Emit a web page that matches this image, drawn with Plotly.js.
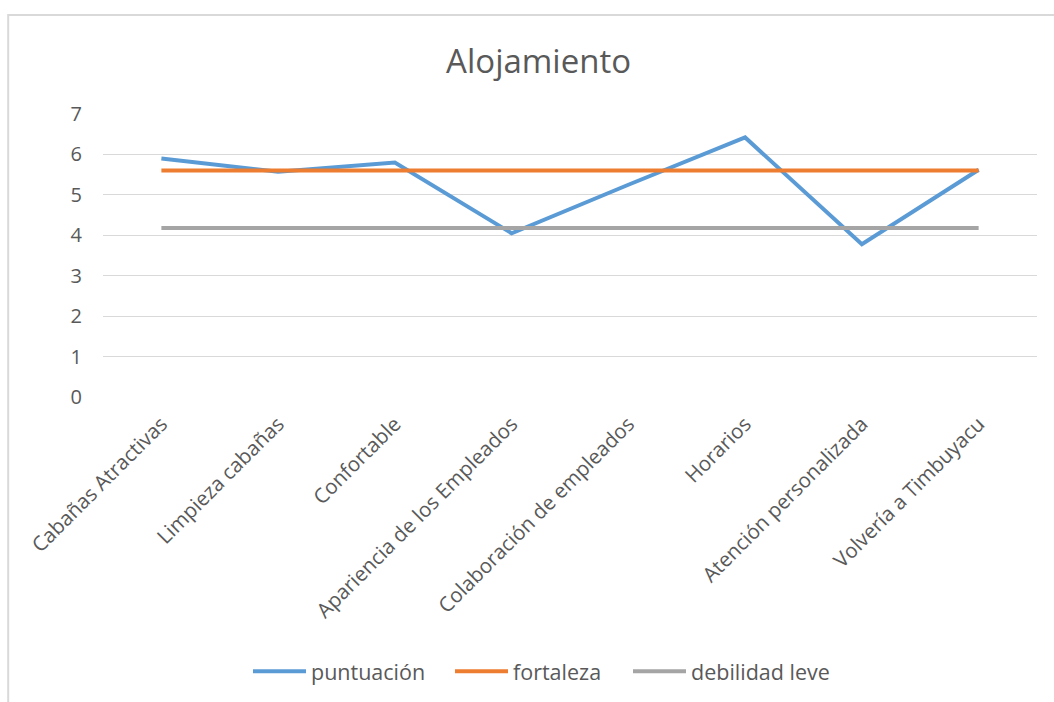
<!DOCTYPE html>
<html>
<head>
<meta charset="utf-8">
<script src="https://cdn.plot.ly/plotly-3.0.1.min.js"></script>
<style>
  html, body { margin: 0; padding: 0; background: #ffffff; }
  #chart { width: 1054px; height: 702px; }
</style>
</head>
<body>
<div id="chart"></div>
<script>
// Survey items on the x axis
const categories = [
  "Cabañas Atractivas",
  "Limpieza cabañas",
  "Confortable",
  "Apariencia de los Empleados",
  "Colaboración de empleados",
  "Horarios",
  "Atención personalizada",
  "Volvería a Timbuyacu"
];

// Average score per item
const puntuacion = [5.9, 5.57, 5.8, 4.05, 5.25, 6.42, 3.78, 5.62];

// Threshold levels drawn as flat reference lines
const fortaleza = [5.6, 5.6, 5.6, 5.6, 5.6, 5.6, 5.6, 5.6];
const debilidadLeve = [4.18, 4.18, 4.18, 4.18, 4.18, 4.18, 4.18, 4.18];

const yTicks = [0, 1, 2, 3, 4, 5, 6, 7];

const FONT = "'Open Sans', 'Noto Sans', sans-serif";
const TEXT = "#595959";

const traces = [
  { name: "puntuación", x: categories, y: puntuacion, type: "scatter", mode: "lines",
    line: { color: "#5b9bd5", width: 4 }, legend: "legend" },
  { name: "fortaleza", x: categories, y: fortaleza, type: "scatter", mode: "lines",
    line: { color: "#ed7d31", width: 4 }, legend: "legend2" },
  { name: "debilidad leve", x: categories, y: debilidadLeve, type: "scatter", mode: "lines",
    line: { color: "#a5a5a5", width: 4 }, legend: "legend3" }
];

// one legend box per series so each entry can be spaced freely
function legendAt(x) {
  return {
    orientation: "h",
    x: x, xanchor: "left",
    y: -0.962, yanchor: "middle",
    font: { family: FONT, size: 21.5, color: TEXT },
    itemwidth: 53,
    bgcolor: "rgba(0,0,0,0)"
  };
}

const layout = {
  width: 1054,
  height: 702,
  paper_bgcolor: "#ffffff",
  plot_bgcolor: "#ffffff",
  margin: { l: 103, r: 17, t: 114, b: 304 },
  font: { family: FONT, color: TEXT, size: 18 },
  title: { text: "Alojamiento", font: { family: FONT, size: 33, color: TEXT },
           xref: "container", x: 0.511, xanchor: "center", y: 0.912, yanchor: "middle" },
  xaxis: {
    type: "category",
    range: [-0.5, 7.5],
    tickangle: -45,
    showgrid: false,
    zeroline: false,
    showline: false,
    ticks: "",
    ticklabelstandoff: 10,
    tickfont: { family: FONT, size: 20.5, color: TEXT },
    automargin: false
  },
  yaxis: {
    range: [0, 7],
    tickvals: yTicks,
    ticktext: yTicks.map(String),
    showgrid: true,
    gridcolor: "#d9d9d9",
    gridwidth: 1,
    zeroline: false,
    showline: false,
    ticks: "",
    ticklabelstandoff: 20,
    tickfont: { family: FONT, size: 20, color: TEXT },
    automargin: false
  },
  showlegend: true,
  legend: legendAt((248 - 103) / 934),
  legend2: legendAt((450 - 103) / 934),
  legend3: legendAt((628 - 103) / 934),
  shapes: [
    // chart frame
    { type: "rect", xref: "paper", yref: "paper",
      x0: -0.1015, x1: 1.1, y0: -1.2, y1: 1.3497,
      line: { color: "#d9d9d9", width: 2 }, fillcolor: "rgba(0,0,0,0)", layer: "below" }
  ]
};

Plotly.newPlot("chart", traces, layout, { displayModeBar: false, staticPlot: true });
</script>
</body>
</html>
